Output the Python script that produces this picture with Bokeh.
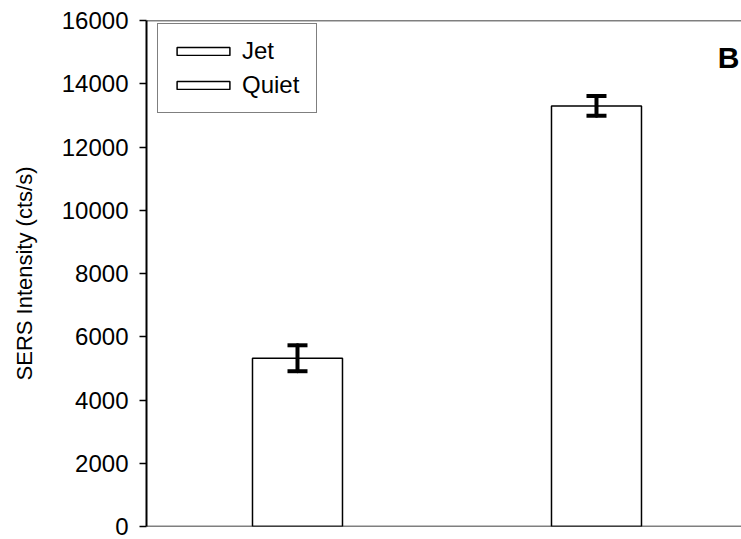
from bokeh.plotting import figure
from bokeh.models import (ColumnDataSource, Whisker, TeeHead, Span, Label, Legend,
                          LegendItem, Range1d)
from bokeh.embed import file_html
from bokeh.resources import INLINE

# ---- data ----
categories = ["Jet", "Quiet"]
positions = [1, 2]
intensity = [5320, 13300]
error = [410, 315]
y_ticks = [0, 2000, 4000, 6000, 8000, 10000, 12000, 14000, 16000]
y_title = "SERS Intensity (cts/s)"

FONT = "Liberation Sans"

p = figure(width=741, height=539, output_backend="svg", toolbar_location=None,
           x_range=Range1d(0.495, 2.485), y_range=Range1d(0, 16000),
           min_border_left=146, min_border_right=0, min_border_top=20,
           min_border_bottom=13)
p.outline_line_color = None
p.grid.visible = False
p.xaxis.visible = False
p.background_fill_color = "white"
p.border_fill_color = "white"

src_jet = ColumnDataSource(dict(x=[positions[0]], top=[intensity[0]],
                                lo=[intensity[0] - error[0]], hi=[intensity[0] + error[0]]))
src_quiet = ColumnDataSource(dict(x=[positions[1]], top=[intensity[1]],
                                  lo=[intensity[1] - error[1]], hi=[intensity[1] + error[1]]))

r_jet = p.vbar(x="x", top="top", width=0.301, bottom=0, source=src_jet,
               fill_color="white", line_color="black", line_width=1.5)
r_quiet = p.vbar(x="x", top="top", width=0.301, bottom=0, source=src_quiet,
                 fill_color="white", line_color="black", line_width=1.5)

for src in (src_jet, src_quiet):
    w = Whisker(base="x", lower="lo", upper="hi", source=src, level="overlay",
                line_color="black", line_width=4, line_cap="round",
                upper_head=TeeHead(size=20, line_width=4, line_color="black"),
                lower_head=TeeHead(size=20, line_width=4, line_color="black"))
    p.add_layout(w)

# axis lines: top and bottom
p.add_layout(Span(location=16000, dimension="width", line_color="black", line_width=1.5))
p.add_layout(Span(location=0, dimension="width", line_color="black", line_width=1.5))

yax = p.yaxis[0]
yax.ticker = y_ticks
yax.minor_tick_line_color = None
yax.major_tick_out = 7
yax.major_tick_in = 0
yax.major_tick_line_width = 1.5
yax.axis_line_width = 2
yax.axis_line_color = "black"
yax.major_tick_line_color = "black"
yax.major_label_text_font = FONT
yax.major_label_text_font_size = "24px"
yax.major_label_text_color = "black"
yax.major_label_standoff = 11
yax.formatter.use_scientific = False
yax.axis_label = y_title
yax.axis_label_text_font = FONT
yax.axis_label_text_font_size = "22px"
yax.axis_label_text_font_style = "normal"
yax.axis_label_text_color = "black"
yax.axis_label_standoff = 22

# panel label
p.add_layout(Label(x=593, y=469, x_units="screen", y_units="screen", text="B",
                   text_align="right", text_baseline="alphabetic",
                   text_font=FONT, text_font_size="30px", text_font_style="bold",
                   text_color="black"))

legend = Legend(items=[LegendItem(label=categories[0], renderers=[r_jet]),
                       LegendItem(label=categories[1], renderers=[r_quiet])],
                location=(11, 413), margin=0)
legend.glyph_width = 66
legend.glyph_height = 10
legend.label_height = 30
legend.label_width = 62
legend.label_standoff = 6
legend.spacing = 4
legend.padding = 12
legend.label_text_font = FONT
legend.label_text_font_size = "24px"
legend.label_text_color = "black"
legend.border_line_color = "black"
legend.border_line_width = 1.5
legend.background_fill_alpha = 1
p.add_layout(legend)

open("out.html", "w").write(file_html(p, INLINE))
